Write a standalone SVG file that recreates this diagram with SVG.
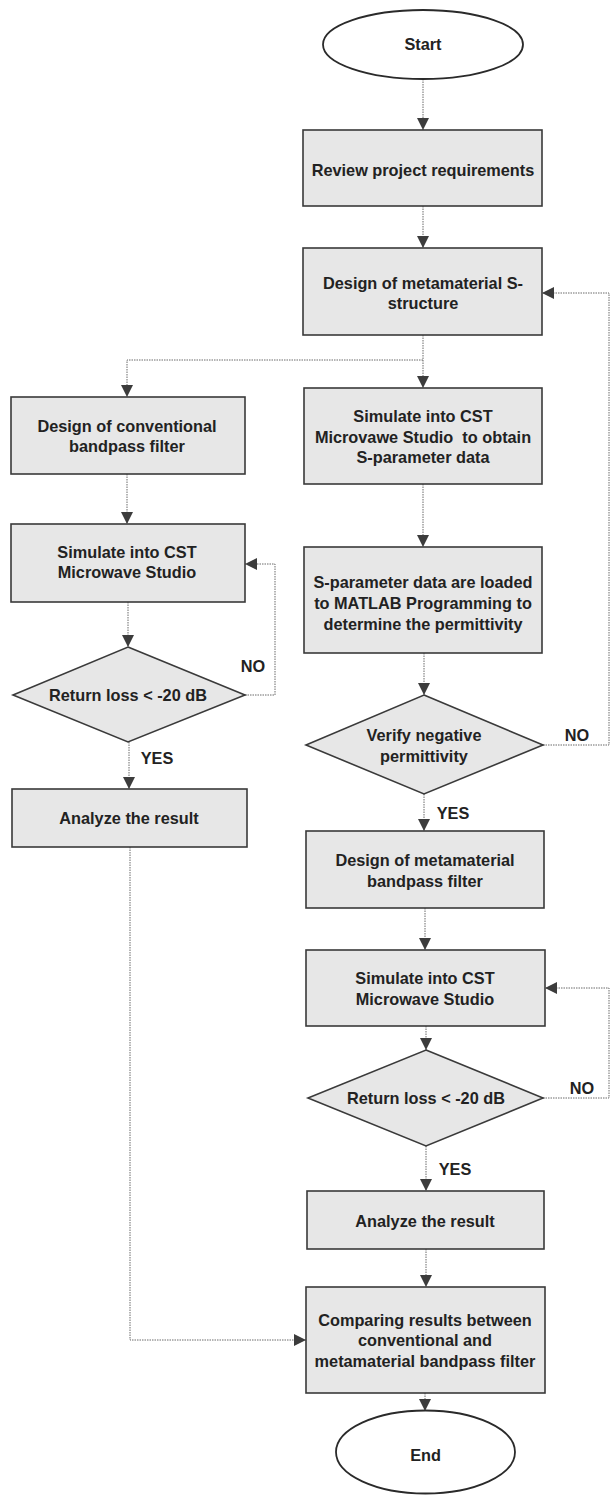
<svg xmlns="http://www.w3.org/2000/svg" width="610" height="1495" viewBox="0 0 610 1495">
<style>
.box{fill:#e7e7e7;stroke:#3a3a3a;stroke-width:1.6}
.term{fill:#ffffff;stroke:#2a2a2a;stroke-width:1.8}
.t{font-family:"Liberation Sans",Arial,sans-serif;font-size:16.3px;font-weight:bold;fill:#222222;text-anchor:middle;white-space:pre}
.lbl{font-family:"Liberation Sans",Arial,sans-serif;font-size:16.3px;font-weight:bold;fill:#222222;text-anchor:middle}
.c{fill:none;stroke:#6a6a6a;stroke-width:1;stroke-dasharray:1.5 1}
</style>
<defs>
<marker id="ah" markerUnits="userSpaceOnUse" markerWidth="12" markerHeight="12" viewBox="0 0 12 12" refX="12" refY="6" orient="auto">
<path d="M0,0 L12,6 L0,12 z" fill="#3c3c3c"/>
</marker>
</defs>
<rect width="610" height="1495" fill="#ffffff"/>
<g id="connectors">
<path class="c" d="M423,79 V130" marker-end="url(#ah)"/>
<path class="c" d="M423,206 V248" marker-end="url(#ah)"/>
<path class="c" d="M423,335 V388" marker-end="url(#ah)"/>
<path class="c" d="M423,360 H127 V397" marker-end="url(#ah)"/>
<path class="c" d="M423,484 V547" marker-end="url(#ah)"/>
<path class="c" d="M424,653 V695" marker-end="url(#ah)"/>
<path class="c" d="M543,745 H609 V293 H542" marker-end="url(#ah)"/>
<path class="c" d="M424,794 V831" marker-end="url(#ah)"/>
<path class="c" d="M425,908 V950" marker-end="url(#ah)"/>
<path class="c" d="M426,1026 V1050" marker-end="url(#ah)"/>
<path class="c" d="M543,1098 H609 V988 H545" marker-end="url(#ah)"/>
<path class="c" d="M426,1146 V1191" marker-end="url(#ah)"/>
<path class="c" d="M426,1249 V1287" marker-end="url(#ah)"/>
<path class="c" d="M425,1393 V1411" marker-end="url(#ah)"/>
<path class="c" d="M127,474 V524" marker-end="url(#ah)"/>
<path class="c" d="M128,602 V647" marker-end="url(#ah)"/>
<path class="c" d="M245,695 H275 V564 H245" marker-end="url(#ah)"/>
<path class="c" d="M129,742 V789" marker-end="url(#ah)"/>
<path class="c" d="M130,847 V1340 H306" marker-end="url(#ah)"/>
</g>
<g id="labels">
<text class="lbl" x="253" y="672">NO</text>
<text class="lbl" x="157" y="764">YES</text>
<text class="lbl" x="577" y="741">NO</text>
<text class="lbl" x="453" y="819">YES</text>
<text class="lbl" x="582" y="1094">NO</text>
<text class="lbl" x="455" y="1175">YES</text>
</g>
<g id="start">
<ellipse class="term" cx="423" cy="44.5" rx="100" ry="34.5"/>
<text class="t" x="423" y="50">Start</text>
</g>
<g id="review">
<rect class="box" x="303" y="130" width="239" height="76"/>
<text class="t" x="423" y="176">Review project requirements</text>
</g>
<g id="design-s">
<rect class="box" x="303" y="248" width="239" height="87"/>
<text class="t" x="423" y="289">Design of metamaterial S-</text>
<text class="t" x="423" y="309">structure</text>
</g>
<g id="simulate-sparam">
<rect class="box" x="304" y="388" width="238" height="96"/>
<text class="t" x="423" y="422">Simulate into CST</text>
<text class="t" x="423" y="443" xml:space="preserve">Microvawe Studio  to obtain</text>
<text class="t" x="423" y="463">S-parameter data</text>
</g>
<g id="matlab">
<rect class="box" x="304" y="547" width="238" height="106"/>
<text class="t" x="423" y="588">S-parameter data are loaded</text>
<text class="t" x="423" y="609">to MATLAB Programming to</text>
<text class="t" x="423" y="630">determine the permittivity</text>
</g>
<g id="verify">
<polygon class="box" points="424,695 543,745 424,794 306,745"/>
<text class="t" x="424" y="741">Verify negative</text>
<text class="t" x="424" y="762">permittivity</text>
</g>
<g id="design-meta-bpf">
<rect class="box" x="306" y="831" width="238" height="77"/>
<text class="t" x="425" y="866">Design of metamaterial</text>
<text class="t" x="425" y="887">bandpass filter</text>
</g>
<g id="simulate-meta">
<rect class="box" x="306" y="950" width="239" height="76"/>
<text class="t" x="425" y="984">Simulate into CST</text>
<text class="t" x="425" y="1005">Microwave Studio</text>
</g>
<g id="return-meta">
<polygon class="box" points="426,1050 543,1098 426,1146 308,1098"/>
<text class="t" x="426" y="1104">Return loss &lt; -20 dB</text>
</g>
<g id="analyze-meta">
<rect class="box" x="307" y="1191" width="237" height="58"/>
<text class="t" x="425" y="1227">Analyze the result</text>
</g>
<g id="compare">
<rect class="box" x="306" y="1287" width="239" height="106"/>
<text class="t" x="425" y="1326">Comparing results between</text>
<text class="t" x="425" y="1346">conventional and</text>
<text class="t" x="425" y="1367">metamaterial bandpass filter</text>
</g>
<g id="end">
<ellipse class="term" cx="425.5" cy="1452" rx="89.5" ry="41.5"/>
<text class="t" x="425.5" y="1461">End</text>
</g>
<g id="design-conv">
<rect class="box" x="11" y="397" width="234" height="77"/>
<text class="t" x="127" y="432">Design of conventional</text>
<text class="t" x="127" y="452">bandpass filter</text>
</g>
<g id="simulate-conv">
<rect class="box" x="11" y="524" width="234" height="78"/>
<text class="t" x="127" y="558">Simulate into CST</text>
<text class="t" x="127" y="578">Microwave Studio</text>
</g>
<g id="return-conv">
<polygon class="box" points="128,647 245,695 128,742 13,695"/>
<text class="t" x="128" y="701">Return loss &lt; -20 dB</text>
</g>
<g id="analyze-conv">
<rect class="box" x="12" y="789" width="235" height="58"/>
<text class="t" x="129" y="824">Analyze the result</text>
</g>
</svg>
